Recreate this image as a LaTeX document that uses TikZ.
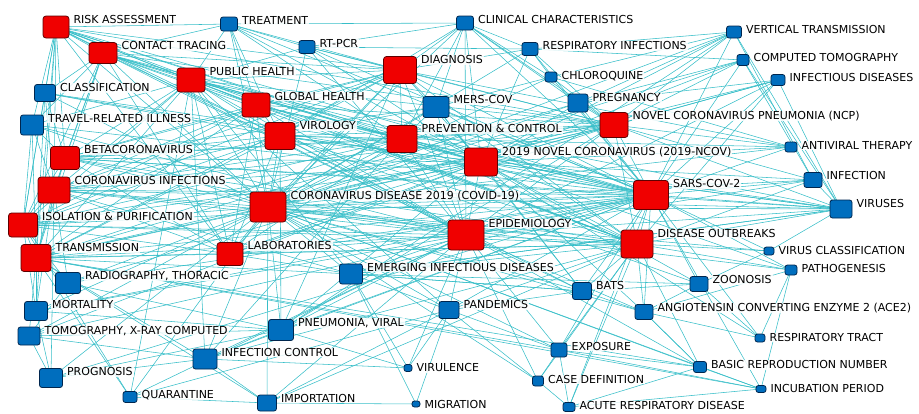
\documentclass[tikz,border=0pt]{standalone}
\usepackage{fontspec}
\setmainfont{DejaVu Sans}
\usetikzlibrary{backgrounds}
\definecolor{kwred}{RGB}{240,0,0}
\definecolor{kwredline}{RGB}{95,0,0}
\definecolor{kwblue}{RGB}{0,110,190}
\definecolor{kwblueline}{RGB}{0,38,78}
\definecolor{linkcol}{RGB}{55,190,200}
\begin{document}
\begin{tikzpicture}[x=1pt, y=-1pt,
    redkw/.style 2 args={rectangle, draw=kwredline, fill=kwred, line width=0.8pt, rounded corners=3pt, inner sep=0pt, minimum width=#1pt, minimum height=#2pt},
    bluekw/.style 2 args={rectangle, draw=kwblueline, fill=kwblue, line width=0.8pt, rounded corners=2.5pt, inner sep=0pt, minimum width=#1pt, minimum height=#2pt},
    lbl/.style={anchor=north west, xshift=3pt, yshift=1pt, fill=white, fill opacity=0.85, text opacity=1, inner xsep=1pt, inner ysep=0.5pt, text height=8pt, text depth=0.5pt, font=\fontsize{11}{12}\selectfont},
    link/.style={draw=linkcol, line width=0.55pt}
]
\useasboundingbox (0,0) rectangle (919,413);
% red keywords
\node[redkw={26}{22}] (risk) at (56,27) {};
\node[redkw={28}{21}] (contact) at (103,53) {};
\node[redkw={28}{24}] (pubhealth) at (191,80) {};
\node[redkw={28}{24}] (globhealth) at (256,105) {};
\node[redkw={30}{27}] (virology) at (280,136) {};
\node[redkw={33}{27}] (diagnosis) at (400,70) {};
\node[redkw={30}{27}] (prevention) at (402,139) {};
\node[redkw={28}{25}] (ncp) at (614,125) {};
\node[redkw={33}{28}] (novel) at (481,162) {};
\node[redkw={29}{23}] (beta) at (65,158) {};
\node[redkw={32}{26}] (corinf) at (54,190) {};
\node[redkw={29}{24}] (isolation) at (23,225) {};
\node[redkw={30}{27}] (transmission) at (36,258) {};
\node[redkw={36}{30}] (covid) at (268,207) {};
\node[redkw={26}{23}] (labs) at (230,254) {};
\node[redkw={36}{30}] (epidem) at (466,235) {};
\node[redkw={35}{29}] (sars) at (651,195) {};
\node[redkw={32}{28}] (outbreaks) at (637,244) {};
% blue keywords
\node[bluekw={17}{14}] (treatment) at (229,24) {};
\node[bluekw={16}{13}] (rtpcr) at (307,47) {};
\node[bluekw={17}{14}] (clinical) at (465,23) {};
\node[bluekw={16}{13}] (respinf) at (530,49) {};
\node[bluekw={12}{10}] (chloro) at (551,77) {};
\node[bluekw={26}{21}] (mers) at (436,107) {};
\node[bluekw={20}{18}] (pregnancy) at (578,103) {};
\node[bluekw={15}{12}] (vertical) at (734,32) {};
\node[bluekw={12}{11}] (ct) at (743,60) {};
\node[bluekw={14}{11}] (infdis) at (778,80) {};
\node[bluekw={21}{17}] (classif) at (45,93) {};
\node[bluekw={23}{20}] (travel) at (32,125) {};
\node[bluekw={12}{10}] (antiviral) at (791,147) {};
\node[bluekw={18}{15}] (infection) at (813,180) {};
\node[bluekw={22}{18}] (viruses) at (841,209) {};
\node[bluekw={10}{8}] (virusclass) at (769,251) {};
\node[bluekw={12}{10}] (pathogen) at (791,270) {};
\node[bluekw={23}{20}] (emerging) at (351,274) {};
\node[bluekw={25}{21}] (radiography) at (68,283) {};
\node[bluekw={23}{19}] (mortality) at (36,311) {};
\node[bluekw={22}{18}] (tomography) at (29,336) {};
\node[bluekw={23}{19}] (prognosis) at (51,378) {};
\node[bluekw={14}{11}] (quarantine) at (130,397) {};
\node[bluekw={24}{20}] (infcontrol) at (205,359) {};
\node[bluekw={25}{21}] (pneumonia) at (281,330) {};
\node[bluekw={19}{16}] (importation) at (267,403) {};
\node[bluekw={20}{17}] (pandemics) at (449,310) {};
\node[bluekw={8}{7}] (virulence) at (408,368) {};
\node[bluekw={8}{6}] (migration) at (416,404) {};
\node[bluekw={19}{17}] (bats) at (582,291) {};
\node[bluekw={16}{14}] (exposure) at (559,350) {};
\node[bluekw={11}{10}] (casedef) at (538,381) {};
\node[bluekw={12}{9}] (acute) at (569,407) {};
\node[bluekw={18}{15}] (zoonosis) at (699,284) {};
\node[bluekw={18}{15}] (ace2) at (644,312) {};
\node[bluekw={10}{8}] (resptract) at (760,338) {};
\node[bluekw={13}{11}] (basic) at (700,367) {};
\node[bluekw={10}{7}] (incubation) at (761,389) {};
% labels
\node[lbl] (risk-t) at (risk.north east) {RISK ASSESSMENT};
\node[lbl] (contact-t) at (contact.north east) {CONTACT TRACING};
\node[lbl] (pubhealth-t) at (pubhealth.north east) {PUBLIC HEALTH};
\node[lbl] (globhealth-t) at (globhealth.north east) {GLOBAL HEALTH};
\node[lbl] (virology-t) at (virology.north east) {VIROLOGY};
\node[lbl] (diagnosis-t) at (diagnosis.north east) {DIAGNOSIS};
\node[lbl] (prevention-t) at (prevention.north east) {PREVENTION \& CONTROL};
\node[lbl] (ncp-t) at (ncp.north east) {NOVEL CORONAVIRUS PNEUMONIA (NCP)};
\node[lbl] (novel-t) at (novel.north east) {2019 NOVEL CORONAVIRUS (2019-NCOV)};
\node[lbl] (beta-t) at (beta.north east) {BETACORONAVIRUS};
\node[lbl] (corinf-t) at (corinf.north east) {CORONAVIRUS INFECTIONS};
\node[lbl] (isolation-t) at (isolation.north east) {ISOLATION \& PURIFICATION};
\node[lbl] (transmission-t) at (transmission.north east) {TRANSMISSION};
\node[lbl] (covid-t) at (covid.north east) {CORONAVIRUS DISEASE 2019 (COVID-19)};
\node[lbl] (labs-t) at (labs.north east) {LABORATORIES};
\node[lbl] (epidem-t) at (epidem.north east) {EPIDEMIOLOGY};
\node[lbl] (sars-t) at (sars.north east) {SARS-COV-2};
\node[lbl] (outbreaks-t) at (outbreaks.north east) {DISEASE OUTBREAKS};
\node[lbl] (treatment-t) at (treatment.north east) {TREATMENT};
\node[lbl] (rtpcr-t) at (rtpcr.north east) {RT-PCR};
\node[lbl] (clinical-t) at (clinical.north east) {CLINICAL CHARACTERISTICS};
\node[lbl] (respinf-t) at (respinf.north east) {RESPIRATORY INFECTIONS};
\node[lbl] (chloro-t) at (chloro.north east) {CHLOROQUINE};
\node[lbl] (mers-t) at (mers.north east) {MERS-COV};
\node[lbl] (pregnancy-t) at (pregnancy.north east) {PREGNANCY};
\node[lbl] (vertical-t) at (vertical.north east) {VERTICAL TRANSMISSION};
\node[lbl] (ct-t) at (ct.north east) {COMPUTED TOMOGRAPHY};
\node[lbl] (infdis-t) at (infdis.north east) {INFECTIOUS DISEASES};
\node[lbl] (classif-t) at (classif.north east) {CLASSIFICATION};
\node[lbl] (travel-t) at (travel.north east) {TRAVEL-RELATED ILLNESS};
\node[lbl] (antiviral-t) at (antiviral.north east) {ANTIVIRAL THERAPY};
\node[lbl] (infection-t) at (infection.north east) {INFECTION};
\node[lbl] (viruses-t) at (viruses.north east) {VIRUSES};
\node[lbl] (virusclass-t) at (virusclass.north east) {VIRUS CLASSIFICATION};
\node[lbl] (pathogen-t) at (pathogen.north east) {PATHOGENESIS};
\node[lbl] (emerging-t) at (emerging.north east) {EMERGING INFECTIOUS DISEASES};
\node[lbl] (radiography-t) at (radiography.north east) {RADIOGRAPHY, THORACIC};
\node[lbl] (mortality-t) at (mortality.north east) {MORTALITY};
\node[lbl] (tomography-t) at (tomography.north east) {TOMOGRAPHY, X-RAY COMPUTED};
\node[lbl] (prognosis-t) at (prognosis.north east) {PROGNOSIS};
\node[lbl] (quarantine-t) at (quarantine.north east) {QUARANTINE};
\node[lbl] (infcontrol-t) at (infcontrol.north east) {INFECTION CONTROL};
\node[lbl] (pneumonia-t) at (pneumonia.north east) {PNEUMONIA, VIRAL};
\node[lbl] (importation-t) at (importation.north east) {IMPORTATION};
\node[lbl] (pandemics-t) at (pandemics.north east) {PANDEMICS};
\node[lbl] (virulence-t) at (virulence.north east) {VIRULENCE};
\node[lbl] (migration-t) at (migration.north east) {MIGRATION};
\node[lbl] (bats-t) at (bats.north east) {BATS};
\node[lbl] (exposure-t) at (exposure.north east) {EXPOSURE};
\node[lbl] (casedef-t) at (casedef.north east) {CASE DEFINITION};
\node[lbl] (acute-t) at (acute.north east) {ACUTE RESPIRATORY DISEASE};
\node[lbl] (zoonosis-t) at (zoonosis.north east) {ZOONOSIS};
\node[lbl] (ace2-t) at (ace2.north east) {ANGIOTENSIN CONVERTING ENZYME 2 (ACE2)};
\node[lbl] (resptract-t) at (resptract.north east) {RESPIRATORY TRACT};
\node[lbl] (basic-t) at (basic.north east) {BASIC REPRODUCTION NUMBER};
\node[lbl] (incubation-t) at (incubation.north east) {INCUBATION PERIOD};
% co-occurrence links
\begin{pgfonlayer}{background}
\foreach \a [count=\i] in {risk,contact,pubhealth,globhealth,virology,diagnosis,prevention,ncp,novel,beta,corinf,isolation,transmission,covid,labs,epidem,sars,outbreaks}{
  \foreach \b [count=\j] in {risk,contact,pubhealth,globhealth,virology,diagnosis,prevention,ncp,novel,beta,corinf,isolation,transmission,covid,labs,epidem,sars,outbreaks}{
    \ifnum\j>\i \draw[link] (\a.center) -- (\b.center); \fi
  }
}
\foreach \a/\list in {
  treatment/{clinical,rtpcr,pubhealth,globhealth,covid,diagnosis,virology,prevention,contact,sars,risk,novel},
  rtpcr/{clinical,respinf,diagnosis,covid,novel,sars,epidem,pubhealth,ncp},
  clinical/{diagnosis,mers,respinf,chloro,novel,sars,ncp,pregnancy,covid,epidem,virology,prevention},
  respinf/{vertical,chloro,ct,ncp,novel,diagnosis,covid,sars},
  chloro/{mers,antiviral,vertical,ncp,sars,covid},
  mers/{diagnosis,prevention,epidem,sars,novel,covid,bats,virology,outbreaks,beta},
  pregnancy/{vertical,ct,infdis,ncp,sars,covid,novel,transmission},
  vertical/{infection,viruses,novel,sars,ncp,covid,pneumonia},
  ct/{ncp,sars,viruses,infection,covid,novel},
  infdis/{outbreaks,viruses,ncp,novel,epidem,covid,sars},
  classif/{risk,contact,corinf,transmission,covid,virology,viruses,beta,sars,isolation},
  travel/{risk,contact,beta,corinf,covid,pubhealth,sars,isolation,transmission,epidem},
  antiviral/{sars,novel,ncp,covid,diagnosis,virology},
  infection/{sars,viruses,outbreaks,covid,novel,ncp,epidem},
  viruses/{sars,outbreaks,epidem,covid,novel,virology,pubhealth,ncp,beta,corinf,emerging},
  virusclass/{outbreaks,sars,zoonosis,viruses,covid},
  pathogen/{sars,outbreaks,ace2,resptract,incubation,covid,novel},
  emerging/{covid,epidem,outbreaks,sars,pubhealth,bats,pandemics,labs,transmission,corinf,viruses,zoonosis},
  radiography/{covid,corinf,transmission,tomography,pneumonia,sars,novel,isolation},
  mortality/{risk,transmission,isolation,prognosis,covid,epidem,sars,corinf},
  tomography/{covid,transmission,pneumonia,prognosis,infcontrol,sars,novel},
  prognosis/{corinf,infcontrol,covid,pneumonia,sars},
  quarantine/{importation,transmission,isolation,epidem,covid,pubhealth,pandemics},
  infcontrol/{covid,transmission,pneumonia,prevention,epidem,sars,importation,pubhealth,outbreaks},
  pneumonia/{covid,sars,epidem,novel,ncp,mortality,virology,diagnosis},
  importation/{migration,transmission,epidem,outbreaks,covid,pandemics},
  pandemics/{covid,epidem,outbreaks,sars,virulence,exposure,casedef,migration,pubhealth,bats},
  virulence/{emerging,pneumonia,epidem,infcontrol},
  migration/{emerging},
  bats/{sars,zoonosis,ace2,epidem,novel,covid,outbreaks,virology,emerging},
  exposure/{basic,casedef,incubation,epidem,covid,sars,transmission,outbreaks},
  casedef/{acute,epidem,covid,outbreaks},
  acute/{exposure,incubation,basic,outbreaks,sars},
  zoonosis/{ace2,resptract,sars,virology,novel},
  ace2/{resptract,basic,sars,novel,covid,outbreaks,epidem},
  resptract/{sars,novel},
  basic/{incubation,ace2,epidem,covid,outbreaks,transmission},
  incubation/{sars,transmission,covid}}{
  \foreach \b in \list {\draw[link] (\a.center) -- (\b.center);}
}
\end{pgfonlayer}
\end{tikzpicture}
\end{document}
